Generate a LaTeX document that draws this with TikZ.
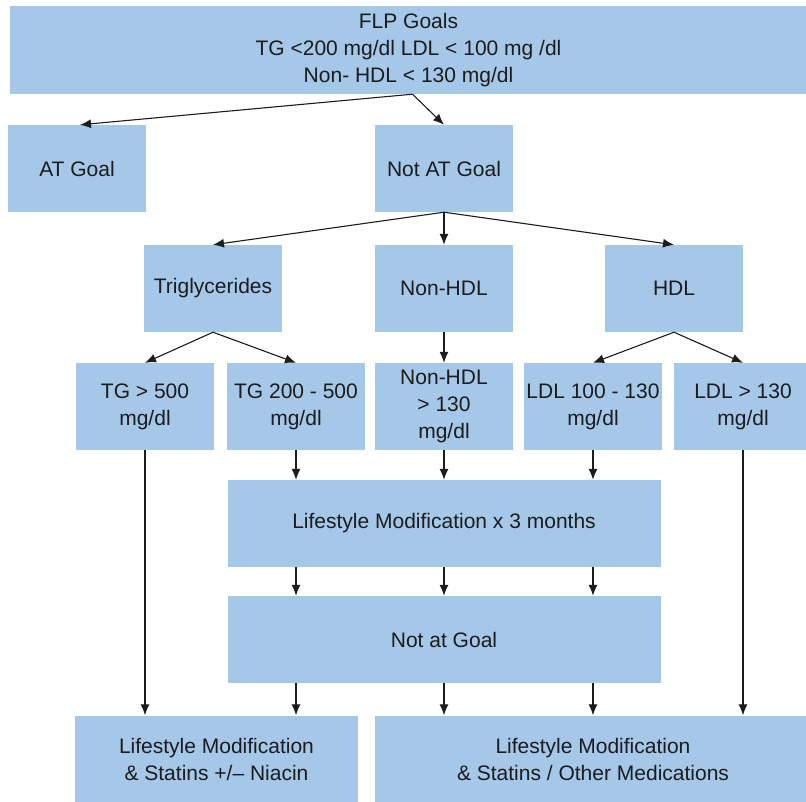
\documentclass[tikz,border=0pt]{standalone}
\usepackage{fontspec}
\setmainfont{Liberation Sans}
\usepackage{xcolor}
\usepackage{tikz}
\usetikzlibrary{arrows.meta,calc,positioning}
\definecolor{BoxBlue}{HTML}{A5C7E8}
\definecolor{Ink}{HTML}{1C1C1C}

\begin{document}
\begin{tikzpicture}[
  x=1pt,y=-1pt,
  box/.style={fill=BoxBlue,draw=none,inner sep=0pt,align=center,
    minimum width=138pt,minimum height=87pt,text=Ink,
    font=\fontsize{21}{27}\selectfont},
  wide/.style={box,minimum width=433pt},
  flow/.style={-{Latex[length=11pt,width=9pt]},line width=1.1pt,color=Ink}
]
\useasboundingbox (0,0) rectangle (806,801);

% goal and first split
\node[box,minimum width=797pt,minimum height=88pt] (goals) at (408.5,50)
  {FLP Goals\\TG <200 mg/dl LDL < 100 mg /dl\\Non- HDL < 130 mg/dl};
\node[box] (atgoal) at (77,168.5) {AT Goal};
\node[box] (notgoal) at (444,168.5) {Not AT Goal};

% lipid groups
\node[box] (trig) at (213,288.5) {Triglycerides};
\node[box] (nonhdl) at (444,288.5) {Non-HDL};
\node[box] (hdl) at (674,288.5) {HDL};

% levels
\node[box] (tghigh) at (145,406.5) {TG > 500\\mg/dl};
\node[box] (tgmid) at (296,406.5) {TG 200 - 500\\mg/dl};
\node[box] (nonhdlhigh) at (444,406.5) {Non-HDL\\> 130\\mg/dl};
\node[box] (ldlmid) at (593,406.5) {LDL 100 - 130\\mg/dl};
\node[box] (ldlhigh) at (743,406.5) {LDL > 130\\mg/dl};

% lifestyle steps
\node[wide] (lifestyle) at (444,523.5) {Lifestyle Modification x 3 months};
\node[wide] (notatgoal) at (444,639.5) {Not at Goal};

% treatment
\node[box,minimum width=283pt] (treatA) at (216.5,759)
  {Lifestyle Modification\\\& Statins +/\textendash{} Niacin};
\node[box,minimum width=436pt] (treatB) at (593,759)
  {Lifestyle Modification\\\& Statins / Other Medications};

\draw[flow] ($(goals.south)+(4,0)$) -- ($(atgoal.north)+(3,0)$);
\draw[flow] ($(goals.south)+(4,0)$) -- (notgoal.north);
\foreach \t in {trig,nonhdl,hdl}
  \draw[flow] (notgoal.south) -- (\t.north);
\foreach \t in {tghigh,tgmid}
  \draw[flow] (trig.south) -- (\t.north);
\draw[flow] (nonhdl) -- (nonhdlhigh);
\foreach \t in {ldlmid,ldlhigh}
  \draw[flow] (hdl.south) -- (\t.north);
\foreach \t in {tgmid,nonhdlhigh,ldlmid} {
  \draw[flow] (\t.south) -- (lifestyle.north -| \t);
  \draw[flow] (lifestyle.south -| \t) -- (notatgoal.north -| \t);
}
\draw[flow] (tghigh.south) -- (treatA.north -| tghigh);
\draw[flow] (notatgoal.south -| tgmid) -- (treatA.north -| tgmid);
\foreach \t in {nonhdlhigh,ldlmid}
  \draw[flow] (notatgoal.south -| \t) -- (treatB.north -| \t);
\draw[flow] (ldlhigh.south) -- (treatB.north -| ldlhigh);
\end{tikzpicture}
\end{document}
